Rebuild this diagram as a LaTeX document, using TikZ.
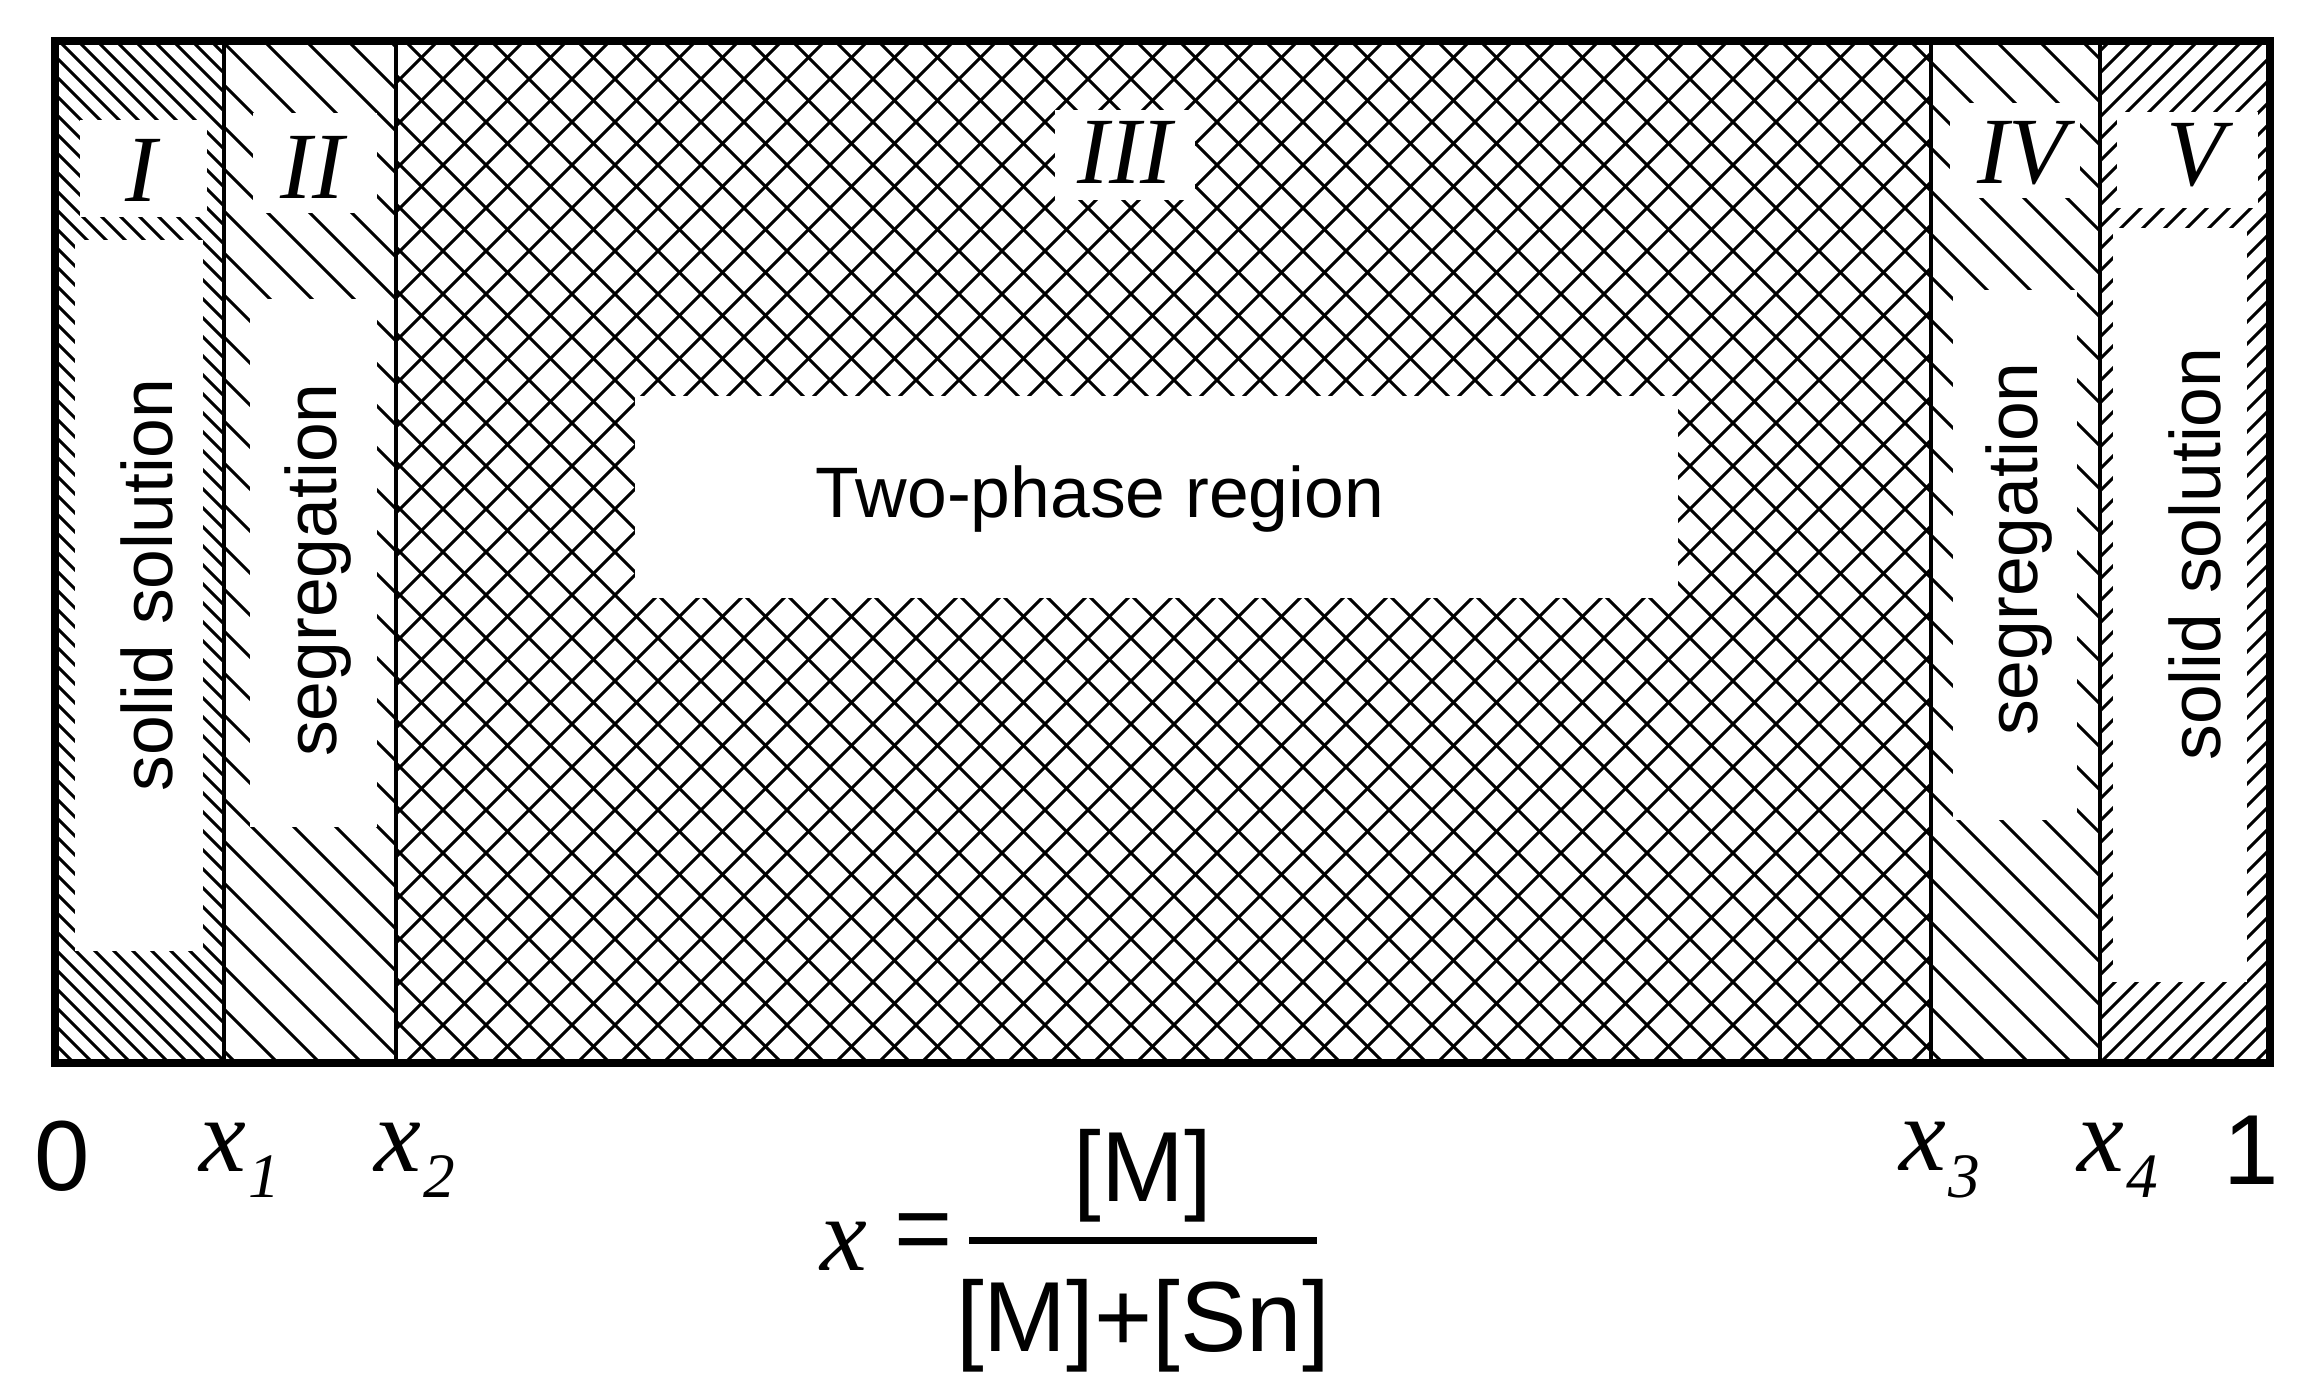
\documentclass[tikz,border=0pt]{standalone}
\usepackage{fontspec}
\setmainfont{Liberation Serif}
\setsansfont{Liberation Sans}
\begin{document}
\begin{tikzpicture}[x=0.3mm,y=-0.3mm,
  hl/.style={line width=2.6pt},
  wbox/.style={fill=white,draw=none},
  lab/.style={font=\fontsize{81}{90}\selectfont\itshape,inner sep=0pt},
  sans/.style={font=\sffamily\fontsize{61}{70}\selectfont,inner sep=0pt},
  axl/.style={font=\fontsize{90}{100}\selectfont\itshape,inner sep=0pt},
  axn/.style={font=\sffamily\fontsize{85}{95}\selectfont,inner sep=0pt},
  frm/.style={font=\sffamily\fontsize{85}{95}\selectfont,inner sep=0pt}]
\useasboundingbox (0,0) rectangle (2314,1381);
% region I
\begin{scope}\clip (55,41) rectangle (224,1063);
\foreach \a in {-1100,-1081,...,230} \draw[hl] (\a,41)--++(1100,1100);
\end{scope}
% region II
\begin{scope}\clip (224,41) rectangle (396,1063);
\foreach \a in {-1080,-1038,...,400} \draw[hl] (\a,41)--++(1100,1100);
\end{scope}
% region III
\begin{scope}\clip (396,41) rectangle (1931,1063);
\foreach \a in {-1100,-1057,...,1940} {\draw[hl] (\a,41)--++(1100,1100); \draw[hl] (\a,1063)--++(1100,-1100);}
\end{scope}
% region IV
\begin{scope}\clip (1931,41) rectangle (2100,1063);
\foreach \a in {-1100,-1057,...,2110} \draw[hl] (\a,41)--++(1100,1100);
\end{scope}
% region V
\begin{scope}\clip (2100,41) rectangle (2270,1063);
\foreach \a in {1000,1022,...,2280} \draw[hl] (\a,1063)--++(1100,-1100);
\end{scope}
% white boxes
\fill[wbox] (80,120) rectangle (207,217);
\fill[wbox] (75,240) rectangle (203,951);
\fill[wbox] (253,113) rectangle (377,213);
\fill[wbox] (250,299) rectangle (377,827);
\fill[wbox] (1055,110) rectangle (1195,200);
\fill[wbox] (635,396) rectangle (1678,598);
\fill[wbox] (1950,103) rectangle (2080,198);
\fill[wbox] (1953,290) rectangle (2077,820);
\fill[wbox] (2117,112) rectangle (2258,208);
\fill[wbox] (2113,228) rectangle (2247,982);
% dividers and frame
\draw[line width=2.8pt] (224,41)--(224,1063) (396,41)--(396,1063) (1931,41)--(1931,1063) (2100,41)--(2100,1063);
\draw[line width=6.5pt] (55,41) rectangle (2270,1063);
% labels
\node[lab] (l1) at (141,170) {I};
\node[lab] (l2) at (312,167) {II};
\node[lab] (l3) at (1125,152) {III};
\node[lab] (l4) at (2022,153) {IV};
\node[lab] (l5) at (2195,155) {V};
\node[sans,rotate=90] (t1) at (147,585) {solid solution};
\node[sans,rotate=90] (t2) at (318,570) {segregation};
\node[sans] (t3) at (1100,499) {Two-phase region};
\node[sans,rotate=90] (t4) at (2019,549) {segregation};
\node[sans,rotate=90] (t5) at (2195,554) {solid solution};
% axis labels
\node[axn] (z0) at (62,1156) {0};
\node[axl] (a1) at (240,1160) {x\kern2pt\raisebox{-0.25em}{\fontsize{54}{60}\selectfont 1}};
\node[axl] (a2) at (415,1160) {x\kern2pt\raisebox{-0.25em}{\fontsize{54}{60}\selectfont 2}};
\node[axl] (a3) at (1940,1160) {x\kern2pt\raisebox{-0.25em}{\fontsize{54}{60}\selectfont 3}};
\node[axl] (a4) at (2118,1160) {x\kern2pt\raisebox{-0.25em}{\fontsize{54}{60}\selectfont 4}};
\node[axn] (z1) at (2251,1150) {1};
% formula
\node[axl] (fx) at (844,1246) {x};
\node[frm] (feq) at (924,1238) {=};
\coordinate (b1) at (969,1240);
\coordinate (b2) at (1317,1240);
\draw[line width=6pt] (b1)--(b2);
\node[frm] (num) at (1143,1176) {[M]};
\node[frm] (den) at (1143,1326) {[M]+[Sn]};
\end{tikzpicture}
\end{document}
